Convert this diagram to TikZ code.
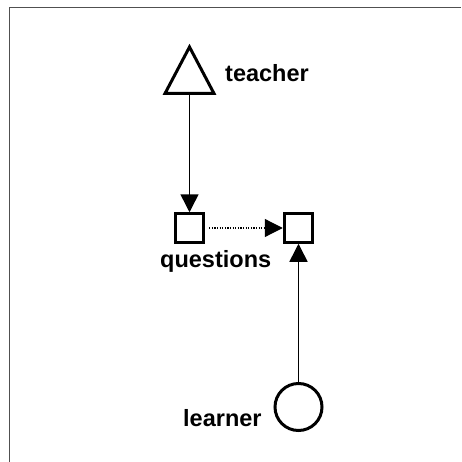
\documentclass[tikz,border=0pt]{standalone}
\usepackage{fontspec}
\setmainfont{Liberation Sans}
\usetikzlibrary{arrows.meta, calc}
\definecolor{frmgray}{HTML}{505050}
\definecolor{inkblack}{HTML}{000000}

\begin{document}
\begin{tikzpicture}[x=1pt, y=-1pt, >={Triangle[length=18pt, width=18pt]},
  shapeline/.style={draw=inkblack, line width=3pt, fill=white, inner sep=0pt},
  lbl/.style={font=\fontsize{23.5}{28}\selectfont\bfseries, text=inkblack, inner sep=0pt, anchor=base west}]

% ============================================================
% Canvas: 461 x 462, frame only on top and left
% ============================================================
\useasboundingbox (0,0) rectangle (461,462);
\draw[frmgray, line width=1.5pt] (9.5,462) -- (9.5,7.5) -- (461,7.5);

% ============================================================
% Shapes
% ============================================================
% Teacher: triangle, apex at (189.5,44), outer base at y=95
\coordinate (teacher) at (189.5,95);
\draw[shapeline, line join=miter] ($(teacher)+(-24.5,-1.5)$) -- ++(49,0)
  -- ($(teacher)+(0,-48)$) -- cycle;

% Question boxes
\node[shapeline, rectangle, minimum size=28.5pt] (qleft) at (189.5,228) {};
\node[shapeline, rectangle, minimum size=28.5pt] (qright) at (298.5,228) {};

% Learner: circle, radius 25
\node[shapeline, circle, minimum size=47pt] (learner) at (298.5,407) {};

% ============================================================
% Labels
% ============================================================
\node[lbl] (teacherlbl) at (225,82) {teacher};
\node[lbl] (questionslbl) at (160,267) {questions};
\node[lbl] (learnerlbl) at (183,426) {learner};

% ============================================================
% Connectors
% ============================================================
\draw[->, line width=1.5pt] (teacher) -- (qleft.north);
\draw[->, line width=1.2pt, dash pattern=on 1.2pt off 1.4pt, shorten <=4pt] (qleft.east) -- (qright.west);
\draw[->, line width=1.5pt] (learner.north) -- (qright.south);

\end{tikzpicture}
\end{document}
